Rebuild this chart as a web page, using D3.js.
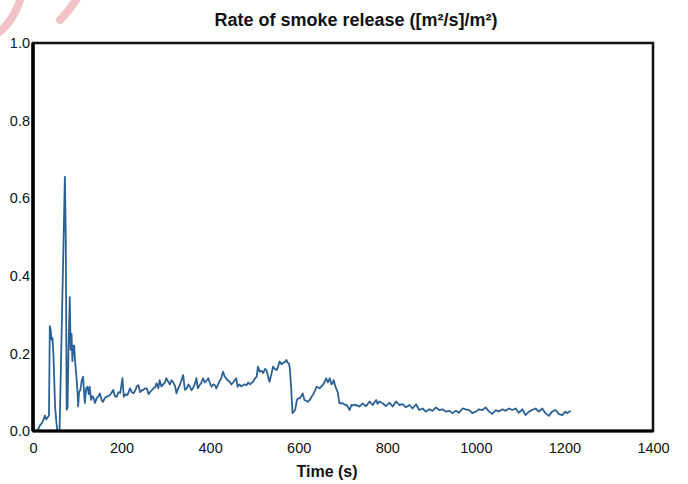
<!DOCTYPE html>
<html>
<head>
<meta charset="utf-8">
<script src="https://cdn.jsdelivr.net/npm/d3@7"></script>
<style>
  html, body { margin: 0; padding: 0; background: #fff; }
  svg { display: block; }
</style>
</head>
<body>
<svg id="chart" width="688" height="484"></svg>
<script>
const chartTitle = "Rate of smoke release ([m²/s]/m²)";
const xTitle = "Time (s)";
const xTicks = [0, 200, 400, 600, 800, 1000, 1200, 1400];
const yTicks = [0, 0.2, 0.4, 0.6, 0.8, 1.0];

const times = [
  0, 8, 12, 16, 20, 24, 27, 30, 33, 36, 38, 40, 42, 44, 46, 50, 53, 55, 60, 72,
  74, 76, 78, 80, 83, 85, 87, 89, 91, 93, 95, 98, 100, 102, 104, 107, 110, 113, 117, 120,
  123, 126, 128, 131, 134, 137, 140, 144, 148, 151, 155, 158, 162, 166, 170, 174, 178, 181, 185, 189,
  193, 197, 202, 205, 209, 213, 216, 219, 223, 227, 231, 234, 238, 242, 245, 249, 253, 257, 261, 264,
  268, 272, 276, 279, 283, 286, 290, 294, 298, 301, 305, 309, 313, 317, 321, 324, 328, 332, 335, 339,
  343, 347, 351, 354, 358, 361, 365, 369, 372, 376, 380, 384, 388, 392, 396, 399, 403, 407, 411, 414,
  418, 422, 425, 429, 433, 437, 440, 444, 448, 452, 455, 459, 462, 466, 470, 474, 478, 482, 486, 490,
  494, 497, 501, 505, 508, 512, 516, 520, 524, 527, 531, 534, 538, 542, 546, 550, 553, 557, 561, 565,
  569, 572, 575, 578, 580, 583, 586, 589, 592, 596, 599, 602, 606, 609, 613, 617, 621, 625, 629, 633,
  637, 640, 644, 647, 651, 654, 658, 662, 666, 670, 674, 677, 679, 683, 688, 692, 696, 700, 704, 708,
  712, 715, 719, 723, 727, 731, 734, 737, 744, 752, 760, 767, 775, 778, 782, 790, 797, 805, 812, 820,
  827, 835, 842, 850, 857, 865, 872, 880, 887, 895, 902, 910, 917, 925, 932, 940, 947, 955, 962, 970,
  977, 985, 992, 1000, 1007, 1015, 1022, 1030, 1037, 1045, 1052, 1060, 1067, 1075, 1082, 1090, 1097, 1105, 1112, 1120,
  1127, 1135, 1142, 1150, 1157, 1165, 1172, 1180, 1187, 1195, 1202, 1206, 1214
];

const smokeRate = [
  0, 0, 0.005, 0.015, 0.02, 0.03, 0.04, 0.03, 0.035, 0.04, 0.27, 0.26, 0.235, 0.24, 0.2, 0.06, 0.02, 0, 0, 0.655,
  0.5, 0.055, 0.06, 0.2, 0.345, 0.21, 0.25, 0.18, 0.22, 0.22, 0.18, 0.14, 0.11, 0.063, 0.1, 0.106, 0.13, 0.14, 0.072, 0.11,
  0.114, 0.095, 0.114, 0.08, 0.09, 0.085, 0.072, 0.085, 0.09, 0.097, 0.08, 0.075, 0.085, 0.088, 0.09, 0.093, 0.1, 0.106, 0.09, 0.088,
  0.1, 0.098, 0.136, 0.088, 0.095, 0.092, 0.1, 0.11, 0.1, 0.097, 0.105, 0.114, 0.118, 0.1, 0.104, 0.106, 0.11, 0.11, 0.095, 0.1,
  0.105, 0.11, 0.113, 0.123, 0.11, 0.131, 0.115, 0.12, 0.125, 0.136, 0.128, 0.12, 0.131, 0.125, 0.115, 0.097, 0.11, 0.12, 0.13, 0.144,
  0.106, 0.11, 0.12, 0.115, 0.105, 0.11, 0.12, 0.136, 0.11, 0.118, 0.124, 0.136, 0.125, 0.13, 0.136, 0.125, 0.114, 0.12, 0.118, 0.11,
  0.12, 0.13, 0.136, 0.153, 0.14, 0.135, 0.13, 0.127, 0.12, 0.125, 0.13, 0.136, 0.114, 0.12, 0.115, 0.118, 0.12, 0.118, 0.125, 0.12,
  0.125, 0.127, 0.135, 0.14, 0.166, 0.153, 0.155, 0.15, 0.16, 0.157, 0.14, 0.127, 0.145, 0.166, 0.16, 0.157, 0.165, 0.179, 0.172, 0.176,
  0.178, 0.183, 0.176, 0.174, 0.16, 0.11, 0.046, 0.05, 0.055, 0.08, 0.084, 0.084, 0.09, 0.097, 0.08, 0.078, 0.075, 0.08, 0.088, 0.095,
  0.105, 0.114, 0.112, 0.11, 0.115, 0.118, 0.125, 0.136, 0.125, 0.136, 0.12, 0.125, 0.131, 0.114, 0.1, 0.071, 0.072, 0.071, 0.068, 0.067,
  0.06, 0.054, 0.067, 0.066, 0.068, 0.065, 0.066, 0.063, 0.071, 0.064, 0.076, 0.067, 0.08, 0.07, 0.076, 0.071, 0.064, 0.073, 0.063, 0.076,
  0.067, 0.069, 0.061, 0.067, 0.058, 0.069, 0.054, 0.058, 0.05, 0.056, 0.052, 0.061, 0.054, 0.056, 0.05, 0.052, 0.046, 0.052, 0.047, 0.058,
  0.056, 0.054, 0.046, 0.05, 0.056, 0.054, 0.061, 0.05, 0.044, 0.054, 0.05, 0.056, 0.052, 0.058, 0.054, 0.058, 0.047, 0.056, 0.041, 0.05,
  0.054, 0.058, 0.05, 0.058, 0.046, 0.039, 0.05, 0.054, 0.044, 0.041, 0.05, 0.046, 0.052
];

const data = times.map((t, i) => ({ t, v: smokeRate[i] }));

const svg = d3.select("#chart");
const mLeft = 33, mRight = 653, mTop = 43, mBottom = 431;

// faint pink watermark strokes (scan artifact)
svg.append("path").attr("d", "M-2,33 Q14,21 21,-3")
  .attr("fill", "none").attr("stroke", "#f1c2c6").attr("stroke-width", 8).attr("stroke-linecap", "round");
svg.append("path").attr("d", "M60,20 Q69,11 78,-3")
  .attr("fill", "none").attr("stroke", "#f1c2c6").attr("stroke-width", 8).attr("stroke-linecap", "round");

const x = d3.scaleLinear().domain([0, 1400]).range([mLeft, mRight]);
const y = d3.scaleLinear().domain([0, 1]).range([mBottom, mTop]);

const fontFam = "'Liberation Sans', Arial, sans-serif";

// x axis
const xAxis = d3.axisBottom(x).tickValues(xTicks).tickSize(0).tickPadding(12)
  .tickFormat(d3.format("d"));
const gx = svg.append("g").attr("transform", `translate(0,${mBottom})`).call(xAxis);
gx.select(".domain").remove();
gx.selectAll("text").attr("font-family", fontFam).attr("font-size", 14.5).attr("fill", "#111");

// y axis
const yAxis = d3.axisLeft(y).tickValues(yTicks).tickSize(0).tickPadding(3)
  .tickFormat(d3.format(".1f"));
const gy = svg.append("g").attr("transform", `translate(${mLeft},0)`).call(yAxis);
gy.select(".domain").remove();
gy.selectAll("text").attr("font-family", fontFam).attr("font-size", 14.5).attr("fill", "#111");

// line
const line = d3.line().x(d => x(d.t)).y(d => y(d.v));
svg.append("path").datum(data)
  .attr("d", line)
  .attr("fill", "none")
  .attr("stroke", "#2b6197")
  .attr("stroke-width", 1.8)
  .attr("stroke-linejoin", "round");

// frame
svg.append("rect")
  .attr("x", x(0)).attr("y", y(1))
  .attr("width", x(1400) - x(0)).attr("height", y(0) - y(1))
  .attr("fill", "none").attr("stroke", "#111").attr("stroke-width", 2.5);
svg.append("line")
  .attr("x1", x(0)).attr("x2", x(0)).attr("y1", y(1)).attr("y2", y(0))
  .attr("stroke", "#000").attr("stroke-width", 3.5);
svg.append("line")
  .attr("x1", x(0)).attr("x2", x(1400)).attr("y1", y(0)).attr("y2", y(0))
  .attr("stroke", "#000").attr("stroke-width", 3);

// titles
svg.append("text")
  .attr("x", 356).attr("y", 26)
  .attr("text-anchor", "middle")
  .attr("font-family", fontFam).attr("font-weight", "bold").attr("font-size", 18)
  .attr("fill", "#111")
  .text(chartTitle);

svg.append("text")
  .attr("x", 327).attr("y", 477)
  .attr("text-anchor", "middle")
  .attr("font-family", fontFam).attr("font-weight", "bold").attr("font-size", 16)
  .attr("fill", "#111")
  .text(xTitle);
</script>
</body>
</html>
